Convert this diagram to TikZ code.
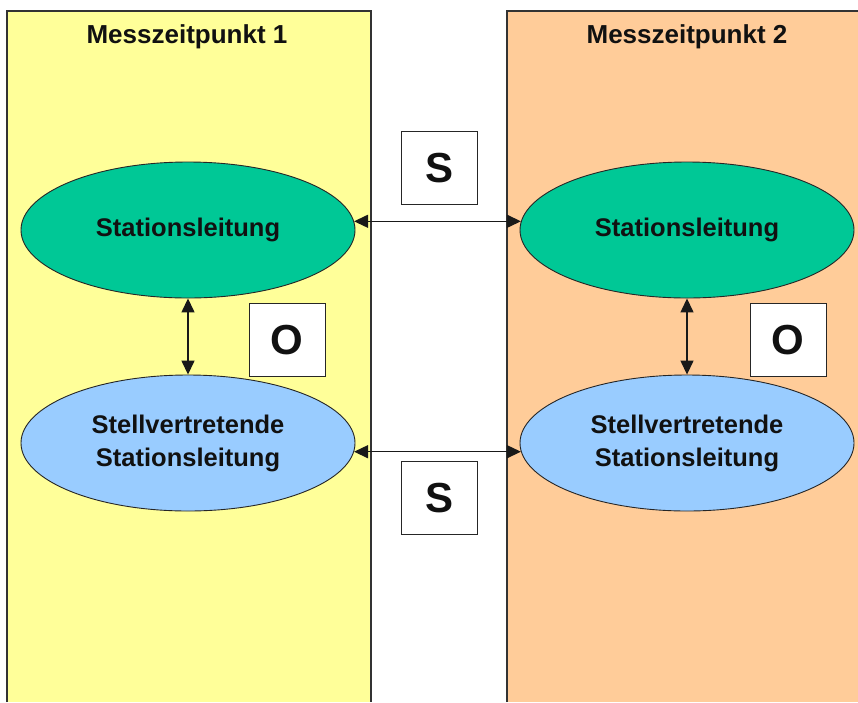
\documentclass[tikz,border=0pt]{standalone}
\usepackage{fontspec}
\setmainfont{Liberation Sans}
\usetikzlibrary{shapes.geometric,arrows.meta}
\definecolor{panelyellow}{HTML}{FFFF99}
\definecolor{panelorange}{HTML}{FFCC99}
\definecolor{ellgreen}{HTML}{00C896}
\definecolor{ellblue}{HTML}{99CCFF}
\definecolor{txt}{HTML}{111111}
\tikzset{
  ellnode/.style={ellipse, draw=black!85, line width=0.9pt, minimum width=334pt, minimum height=136pt, inner sep=0pt,
    font=\bfseries\fontsize{25.5}{33}\selectfont, text=txt, align=center},
  lettbox/.style={draw=black!85, fill=white, line width=1pt, minimum width=76pt, minimum height=73pt, inner sep=0pt,
    font=\bfseries\fontsize{42}{42}\selectfont, text=txt},
  titletext/.style={font=\bfseries\fontsize{26}{30}\selectfont, text=txt},
  conn/.style={line width=1.4pt, black!90, {Triangle[length=14pt,width=13pt]}-{Triangle[length=14pt,width=13pt]}},
  panelline/.style={line width=1.4pt, black!80}
}
\begin{document}
\begin{tikzpicture}[x=1pt,y=-1pt]
\useasboundingbox (0,0) rectangle (858,702);
\fill[white] (0,0) rectangle (858,702);
% panels
\fill[panelyellow] (7,11) rectangle (371,702);
\draw[panelline] (7,702) -- (7,11) -- (371,11) -- (371,702);
\fill[panelorange] (507,11) rectangle (858,702);
\draw[panelline] (507,702) -- (507,11) -- (858,11);
\node[titletext] (t1) at (187,37) {Messzeitpunkt 1};
\node[titletext] (t2) at (687,37) {Messzeitpunkt 2};
% ellipses
\node[ellnode, fill=ellgreen] (g1) at (188,230) {Stationsleitung};
\node[ellnode, fill=ellgreen] (g2) at (687,230) {Stationsleitung};
\node[ellnode, fill=ellblue] (b1) at (188,443) {Stellvertretende\\Stationsleitung};
\node[ellnode, fill=ellblue] (b2) at (687,443) {Stellvertretende\\Stationsleitung};
% boxes
\node[lettbox] (s1) at (439,168) {S};
\node[lettbox] (s2) at (439,498) {S};
\node[lettbox] (o1) at (287,340) {O};
\node[lettbox] (o2) at (788,340) {O};
% connectors
\draw[conn] (g1.3) -- (g2.177);
\draw[conn] (b1.-3) -- (b2.183);
\draw[conn] (g1.south) -- (b1.north);
\draw[conn] (g2.south) -- (b2.north);
\end{tikzpicture}
\end{document}
